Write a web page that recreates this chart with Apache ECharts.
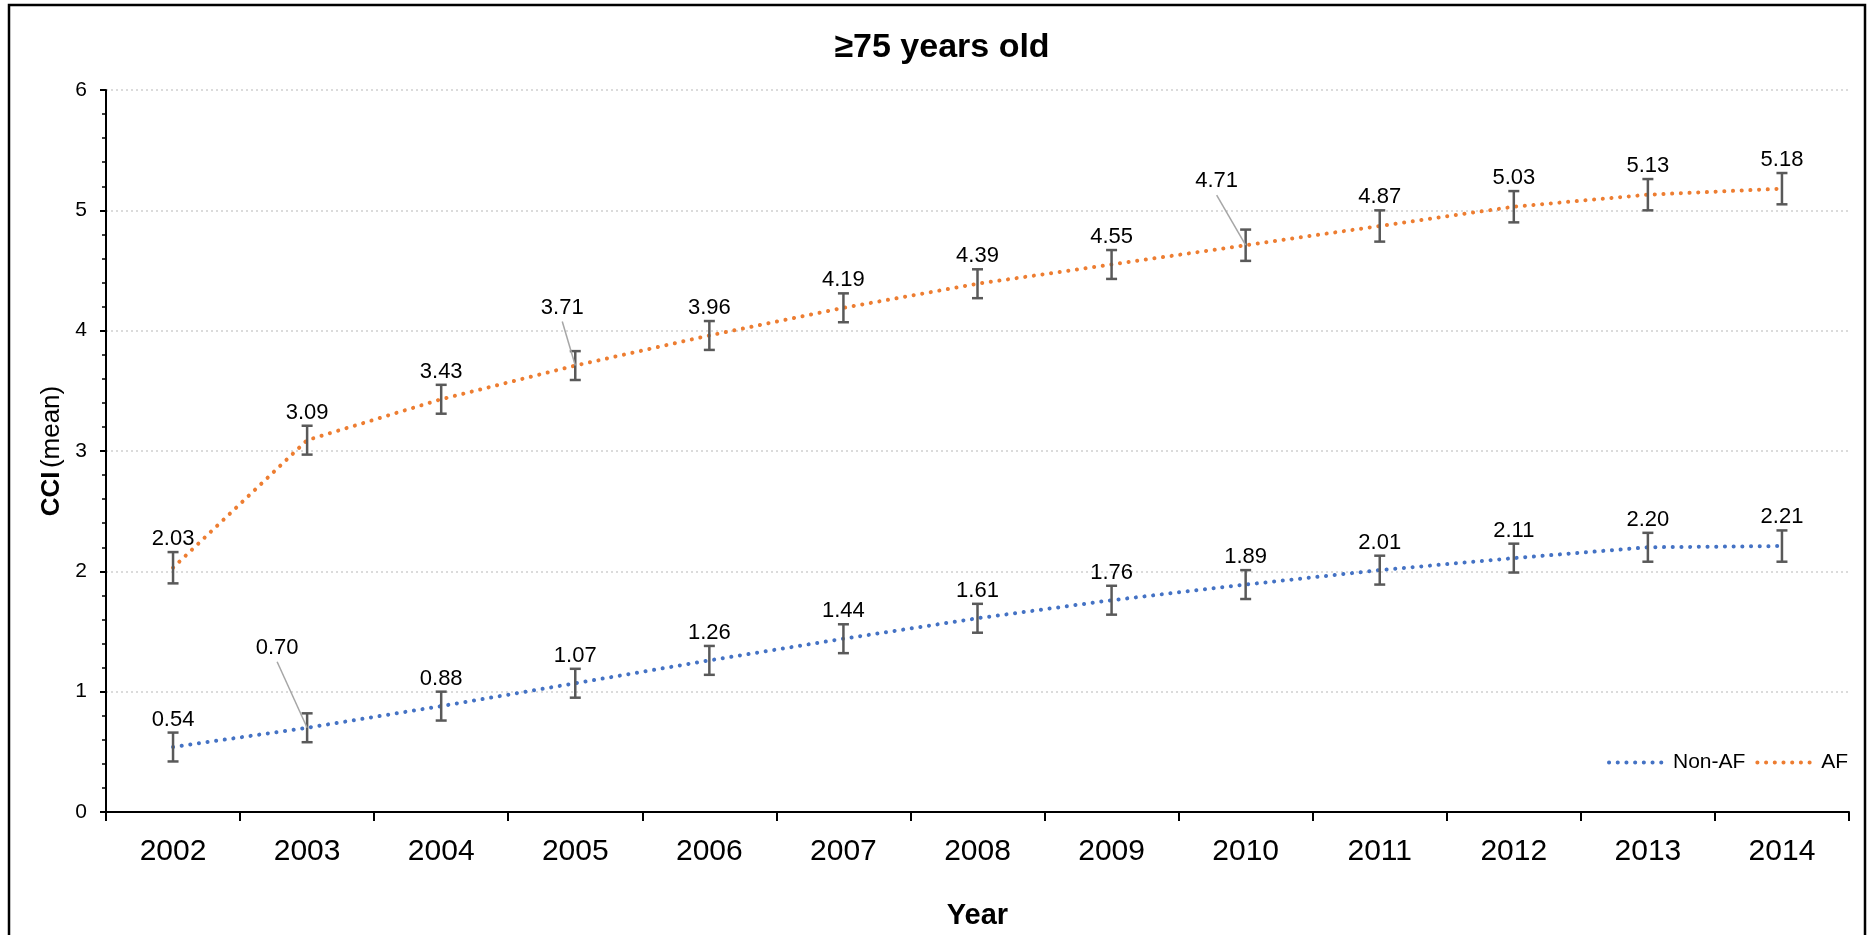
<!DOCTYPE html>
<html>
<head>
<meta charset="utf-8">
<script src="https://cdn.jsdelivr.net/npm/echarts@6/dist/echarts.min.js"></script>
<style>
  html, body { margin: 0; padding: 0; background: #fff; }
  #chart { width: 1870px; height: 935px; }
</style>
</head>
<body>
<div id="chart"></div>
<script>
// Mean Charlson Comorbidity Index by year, patients aged 75 and over
const years = ['2002', '2003', '2004', '2005', '2006', '2007', '2008',
               '2009', '2010', '2011', '2012', '2013', '2014'];
const nonAfMean = [0.54, 0.70, 0.88, 1.07, 1.26, 1.44, 1.61, 1.76, 1.89, 2.01, 2.11, 2.20, 2.21];
const afMean    = [2.03, 3.09, 3.43, 3.71, 3.96, 4.19, 4.39, 4.55, 4.71, 4.87, 5.03, 5.13, 5.18];
// half-width of the error bars
const nonAfErr  = [0.12, 0.12, 0.12, 0.12, 0.12, 0.12, 0.12, 0.12, 0.12, 0.12, 0.12, 0.12, 0.13];
const afErr     = [0.13, 0.12, 0.12, 0.12, 0.12, 0.12, 0.12, 0.12, 0.13, 0.13, 0.13, 0.13, 0.13];

const FONT = '"Liberation Sans", Arial, Helvetica, sans-serif';
const BLUE = '#4472C4';
const ORANGE = '#ED7D31';
const LABEL_SIZE = 22;

// labels pulled away from their point (pixel shift of the label centre), drawn with a leader line
const nonAfLabelShift = { 1: [-30, -80] };
const afLabelShift = { 3: [-13, -58], 8: [-29, -64] };

function errorBarRenderer(shifts) {
  return function (params, api) {
    const i = api.value(0);
    const v = api.value(1);
    const e = api.value(2);
    const p = api.coord([i, v]);
    const hi = api.coord([i, v + e]);
    const lo = api.coord([i, v - e]);
    const half = 5.5;
    const st = { stroke: '#595959', lineWidth: 2.5 };
    const children = [
      { type: 'line', shape: { x1: p[0], y1: hi[1], x2: p[0], y2: lo[1] }, style: st },
      { type: 'line', shape: { x1: p[0] - half, y1: hi[1], x2: p[0] + half, y2: hi[1] }, style: st },
      { type: 'line', shape: { x1: p[0] - half, y1: lo[1], x2: p[0] + half, y2: lo[1] }, style: st }
    ];
    const text = v.toFixed(2);
    const shift = shifts[params.dataIndex];
    if (shift) {
      const lx = p[0] + shift[0];
      const ly = p[1] + shift[1];
      children.push({
        type: 'line',
        shape: { x1: lx, y1: ly + 14, x2: p[0], y2: p[1] },
        style: { stroke: '#a6a6a6', lineWidth: 1.5 }
      });
      children.push({
        type: 'text',
        style: { text: text, x: lx, y: ly, align: 'center', verticalAlign: 'middle',
                 fontSize: LABEL_SIZE, fontFamily: FONT, fill: '#000' }
      });
    } else {
      children.push({
        type: 'text',
        style: { text: text, x: p[0], y: hi[1] - 2, align: 'center', verticalAlign: 'bottom',
                 fontSize: LABEL_SIZE, fontFamily: FONT, fill: '#000' }
      });
    }
    return { type: 'group', children: children };
  };
}

const DOTS = [0.1, 8.6];
const dotted = (color) => ({ color: color, width: 4, type: DOTS, cap: 'round' });

const chart = echarts.init(document.getElementById('chart'), null, { renderer: 'canvas' });

chart.setOption({
  backgroundColor: '#fff',
  animation: false,
  textStyle: { fontFamily: FONT },
  title: {
    text: '≥75 years old',
    left: 942,
    textAlign: 'center',
    top: 31,
    padding: 0,
    textStyle: { fontSize: 34, fontWeight: 'bold', color: '#000', fontFamily: FONT }
  },
  graphic: [{
    type: 'rect',
    shape: { x: 9, y: 5, width: 1856, height: 945 },
    style: { fill: 'none', stroke: '#000', lineWidth: 2.5 },
    silent: true,
    z: -1
  }],
  legend: {
    data: ['Non-AF', 'AF'],
    left: 1607,
    top: 752,
    padding: 0,
    itemWidth: 56,
    itemHeight: 14,
    itemGap: 10,
    itemStyle: { opacity: 0 },
    lineStyle: { width: 4, type: DOTS, cap: 'round' },
    textStyle: { fontSize: 21, color: '#000', fontFamily: FONT, padding: [0, 0, 0, 3] }
  },
  grid: { left: 106, right: 21, top: 90, bottom: 121 },
  xAxis: {
    type: 'category',
    data: years,
    boundaryGap: true,
    name: 'Year',
    nameLocation: 'middle',
    nameGap: 89,
    nameTextStyle: { fontSize: 29, fontWeight: 'bold', color: '#000', fontFamily: FONT },
    axisLine: { lineStyle: { color: '#000', width: 2 } },
    axisTick: { show: true, interval: 0, length: 9, lineStyle: { color: '#000', width: 2 } },
    axisLabel: { fontSize: 30, color: '#000', margin: 25, fontFamily: FONT }
  },
  yAxis: {
    type: 'value',
    min: 0,
    max: 6,
    interval: 1,
    name: '{b|CCI} {n|(mean)}',
    nameLocation: 'middle',
    nameGap: 38,
    nameTextStyle: {
      color: '#000',
      rich: {
        b: { fontSize: 26, fontWeight: 'bold', color: '#000', fontFamily: FONT },
        n: { fontSize: 26, color: '#000', fontFamily: FONT }
      }
    },
    axisLine: { show: true, lineStyle: { color: '#000', width: 2 } },
    axisTick: { show: true, length: 6, lineStyle: { color: '#000', width: 2 } },
    minorTick: { show: true, splitNumber: 5, length: 4, lineStyle: { color: '#000', width: 1.5 } },
    axisLabel: { fontSize: 21, color: '#000', margin: 19, fontFamily: FONT },
    splitLine: { show: true, lineStyle: { color: '#d0d0d0', width: 1.5, type: [2, 3] } }
  },
  series: [
    {
      name: 'Non-AF',
      type: 'line',
      data: nonAfMean,
      symbol: 'none',
      itemStyle: { color: BLUE },
      lineStyle: dotted(BLUE),
      z: 2
    },
    {
      name: 'AF',
      type: 'line',
      data: afMean,
      symbol: 'none',
      itemStyle: { color: ORANGE },
      lineStyle: dotted(ORANGE),
      z: 2
    },
    {
      name: 'Non-AF error',
      type: 'custom',
      data: nonAfMean.map((v, i) => [i, v, nonAfErr[i]]),
      encode: { x: 0, y: 1 },
      renderItem: errorBarRenderer(nonAfLabelShift),
      clip: false,
      z: 3
    },
    {
      name: 'AF error',
      type: 'custom',
      data: afMean.map((v, i) => [i, v, afErr[i]]),
      encode: { x: 0, y: 1 },
      renderItem: errorBarRenderer(afLabelShift),
      clip: false,
      z: 3
    }
  ]
});
</script>
</body>
</html>
